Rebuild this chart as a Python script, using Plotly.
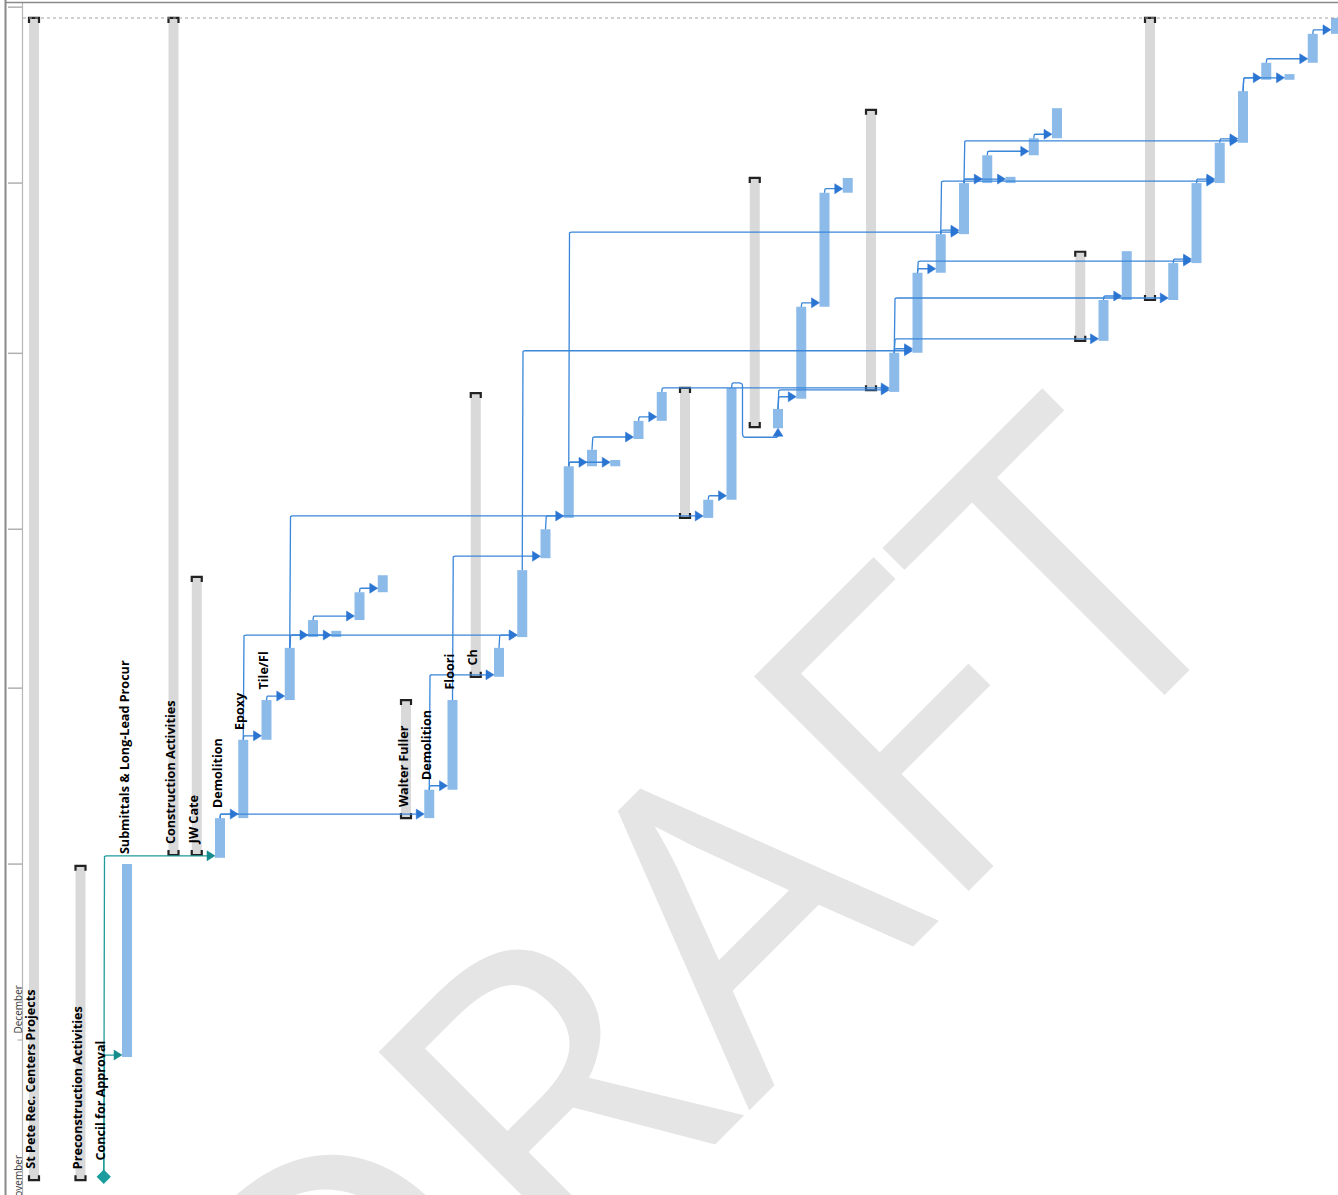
import plotly.graph_objects as go

W, H = 1338, 1195

# ---------------- data (rows run left->right, time runs bottom->top, days from 1 December) ----------------
task_rows = [0, 2, 3, 4, 6, 7, 8, 9, 10, 11, 12, 13, 14, 15, 16, 17, 18, 19, 20, 21, 22, 23, 24, 25, 26, 27,
             28, 29, 30, 31, 32, 33, 34, 35, 36, 37, 38, 39, 40, 41, 42, 43, 44, 45, 46, 47, 48, 49, 50, 51,
             52, 53, 54, 55, 56]
task_kinds = ["S", "S", "M", "T", "S", "S", "T", "T", "T", "T", "T", "T", "T", "T", "S", "T", "T", "S", "T", "T",
              "T", "T", "T", "T", "T", "T", "S", "T", "T", "S", "T", "T", "T", "T", "S", "T", "T", "T", "T", "T",
              "T", "T", "T", "S", "T", "T", "S", "T", "T", "T", "T", "T", "T", "T", "T"]
task_names = ["St Pete Rec. Centers Projects", "Preconstruction Activities", "Concil for Approval",
              "Submittals & Long-Lead Procur", "Construction Activities", "JW Cate", "Demolition", "Epoxy",
              "Tile/Fl", "", "", "", "", "", "Walter Fuller", "Demolition", "Floori", "Ch"] + [""] * 37
task_start = [-24.7, -24.7, -24.1, -3.0, 32.6, 32.6, 32.1, 39.1, 52.9, 59.9, 71.0, 71.0, 74.0, 78.9,
              39.1, 39.1, 44.1, 64.0, 64.0, 71.0, 84.9, 92.0, 101.1, 101.1, 105.9, 109.1,
              92.0, 92.0, 95.2, 108.0, 107.8, 113.0, 129.2, 149.3, 114.5, 114.2, 121.1, 135.2, 142.0,
              151.0, 151.0, 155.9, 158.9, 123.2, 123.2, 130.4, 130.4, 130.4, 136.9, 151.0, 158.1,
              169.2, 169.2, 172.2, 177.3]
task_finish = [180.1, 30.7, -24.1, 31.0, 180.1, 81.6, 39.1, 52.9, 59.9, 69.1, 74.0, 72.1, 78.9, 81.9,
               59.9, 44.1, 59.9, 114.0, 69.1, 82.8, 90.0, 101.1, 104.0, 102.2, 109.1, 114.2,
               114.9, 95.2, 114.9, 151.9, 111.2, 129.2, 149.3, 151.9, 163.9, 121.1, 135.2, 142.0, 151.0,
               155.9, 152.1, 158.9, 164.2, 138.9, 130.4, 139.0, 180.1, 136.9, 151.0, 158.1, 167.2,
               172.2, 170.2, 177.3, 180.1]

link_from = [3, 3, 8, 8, 9, 9, 10, 11, 11, 11, 12, 14, 17, 17, 18, 20, 21, 22, 23, 23, 23, 24, 26, 27,
             29, 30, 32, 32, 33, 34, 37, 37, 37, 38, 38, 39, 39, 40, 40, 40, 41, 43, 46, 49, 50, 51,
             52, 52, 53, 55]
link_to = [4, 8, 9, 17, 10, 21, 11, 12, 13, 29, 14, 15, 18, 20, 22, 21, 38, 23, 24, 25, 40, 26, 27, 37,
           30, 32, 33, 37, 34, 35, 38, 46, 49, 39, 50, 40, 51, 41, 42, 52, 43, 44, 47, 50, 51, 52,
           53, 54, 55, 56]

month_tick_days = [31, 62, 90, 121, 151, 182]
month_label_text = ["November", "December"]
month_label_days = [-30, 0]

# ---------------- scale helpers (match axis ranges below) ----------------
X0, DX = 34.0, 23.25      # pixel x of row 0, pixels per row
Y0, DY = 1040.0, 5.675    # pixel y of day 0, pixels per day


def px_x(k):
    return X0 + DX * k


def px_y(d):
    return Y0 - DY * d


def kx(px):
    return (px - X0) / DX


def dd(py):
    return (Y0 - py) / DY


xrange_ = [kx(0), kx(W)]
yrange_ = [dd(H), dd(0)]

fig = go.Figure()

BLUE_BAR = "#8cbbea"
GRAY_BAR = "#d9d9d9"
LINK = "#3a86d9"
ARROW = "#2a74d2"
TEAL = "#1f9b9b"
TEAL_ARROW = "#158c8c"

# ---------------- bars ----------------
for kind, color in (("S", GRAY_BAR), ("T", BLUE_BAR)):
    xs = [r for r, k in zip(task_rows, task_kinds) if k == kind]
    b = [s for s, k in zip(task_start, task_kinds) if k == kind]
    h = [f - s for s, f, k in zip(task_start, task_finish, task_kinds) if k == kind]
    fig.add_trace(go.Bar(x=xs, y=h, base=b, width=10 / DX, marker=dict(color=color, line=dict(width=0)),
                         hoverinfo="skip"))

# summary end caps
cx, cy = [], []
for r, k, s, f in zip(task_rows, task_kinds, task_start, task_finish):
    if k != "S":
        continue
    xl, xr = px_x(r) - 5, px_x(r) + 5
    yt, yb = px_y(f), px_y(s)
    for (a, b) in [(xl, yt + 5), (xl, yt), (xr, yt), (xr, yt + 5)]:
        cx.append(kx(a)); cy.append(dd(b))
    cx.append(None); cy.append(None)
    for (a, b) in [(xl, yb - 5), (xl, yb), (xr, yb), (xr, yb - 5)]:
        cx.append(kx(a)); cy.append(dd(b))
    cx.append(None); cy.append(None)
fig.add_trace(go.Scatter(x=cx, y=cy, mode="lines", line=dict(color="#222222", width=2.2), hoverinfo="skip"))


# ---------------- links ----------------
def rounded(pts, r=3.0):
    out = [pts[0]]
    for i in range(1, len(pts) - 1):
        (x0, y0), (x1, y1), (x2, y2) = pts[i - 1], pts[i], pts[i + 1]
        d1 = ((x1 - x0) ** 2 + (y1 - y0) ** 2) ** 0.5
        d2 = ((x2 - x1) ** 2 + (y2 - y1) ** 2) ** 0.5
        if d1 < 1e-6 or d2 < 1e-6:
            out.append((x1, y1))
            continue
        rr = min(r, d1 / 2, d2 / 2)
        a = (x1 - (x1 - x0) / d1 * rr, y1 - (y1 - y0) / d1 * rr)
        b = (x1 + (x2 - x1) / d2 * rr, y1 + (y2 - y1) / d2 * rr)
        for t in (0, 0.25, 0.5, 0.75, 1):
            out.append(((1 - t) ** 2 * a[0] + 2 * (1 - t) * t * x1 + t * t * b[0],
                        (1 - t) ** 2 * a[1] + 2 * (1 - t) * t * y1 + t * t * b[1]))
    out.append(pts[-1])
    return out


idx = {r: i for i, r in enumerate(task_rows)}
paths = {"blue": ([], [], [], []), "teal": ([], [], [], [])}
for p, s in zip(link_from, link_to):
    ip, iss = idx[p], idx[s]
    key = "teal" if task_kinds[ip] == "M" else "blue"
    lx, ly, ax, ay = paths[key]
    xp = px_x(p)
    yf = px_y(task_finish[ip])
    xs = px_x(s)
    ys = px_y(task_start[iss])
    if ys > yf + 6:
        ytop = yf - 5
        xj = xp + 11
        ylow = ys + 9
        pts = [(xp, yf), (xp, ytop), (xj, ytop), (xj, ylow), (xs, ylow), (xs, ys + 6)]
        tri = [(xs, ys), (xs - 5, ys + 8), (xs + 5, ys + 8), (xs, ys)]
    else:
        yh = min(yf - 4, ys - 2)
        tip = xs - 5
        pts = [(xp, yf), (xp, yh), (tip - 6, yh)]
        tri = [(tip, yh), (tip - 8, yh - 5), (tip - 8, yh + 5), (tip, yh)]
    for (a, b) in rounded(pts):
        lx.append(kx(a)); ly.append(dd(b))
    lx.append(None); ly.append(None)
    for (a, b) in tri:
        ax.append(kx(a)); ay.append(dd(b))
    ax.append(None); ay.append(None)

for key, lc, ac in (("blue", LINK, ARROW), ("teal", TEAL, TEAL_ARROW)):
    lx, ly, ax, ay = paths[key]
    fig.add_trace(go.Scatter(x=lx, y=ly, mode="lines", line=dict(color=lc, width=1.3), hoverinfo="skip"))
    fig.add_trace(go.Scatter(x=ax, y=ay, mode="lines", fill="toself", fillcolor=ac,
                             line=dict(color=ac, width=0.5), hoverinfo="skip"))

# milestones
mx = [r for r, k in zip(task_rows, task_kinds) if k == "M"]
my = [s for s, k in zip(task_start, task_kinds) if k == "M"]
fig.add_trace(go.Scatter(x=mx, y=my, mode="markers",
                         marker=dict(symbol="diamond", size=11, color="#1c9d9d", line=dict(width=0)),
                         hoverinfo="skip"))

# ---------------- labels ----------------
annotations = []
for r, k, nm, s, f in zip(task_rows, task_kinds, task_names, task_start, task_finish):
    if not nm:
        continue
    if k == "S":
        ybase = px_y(s) - 9
    elif k == "M":
        ybase = px_y(s) - 14
    else:
        ybase = px_y(f) - 8
    annotations.append(dict(x=kx(px_x(r) - 3), y=dd(ybase), xref="x", yref="y", text="<b>" + nm + "</b>",
                            textangle=-90, showarrow=False, xanchor="center", yanchor="bottom",
                            font=dict(family="Open Sans", size=12.6, color="#000000")))

for txt, d in zip(month_label_text, month_label_days):
    annotations.append(dict(x=17.5 / W, y=1 - (px_y(d) - 4) / H, xref="paper", yref="paper", text=txt,
                            textangle=-90, showarrow=False, xanchor="center", yanchor="bottom",
                            font=dict(family="Open Sans", size=10, color="#3a3a3a")))

# ---------------- frame / timescale ----------------
shapes = []
shapes.append(dict(type="line", xref="paper", yref="paper", x0=5.5 / W, x1=5.5 / W, y0=0, y1=1,
                   line=dict(color="#8a8a8a", width=2)))
shapes.append(dict(type="line", xref="paper", yref="paper", x0=22.5 / W, x1=22.5 / W, y0=0, y1=1 - 3 / H,
                   line=dict(color="#b5b5b5", width=1.2)))
shapes.append(dict(type="line", xref="paper", yref="paper", x0=5 / W, x1=1, y0=1 - 2.5 / H, y1=1 - 2.5 / H,
                   line=dict(color="#8a8a8a", width=1.5)))
shapes.append(dict(type="line", xref="paper", yref="paper", x0=23 / W, x1=1, y0=1 - 18 / H, y1=1 - 18 / H,
                   line=dict(color="#a0a0a0", width=1, dash="dot")))
for d in month_tick_days:
    shapes.append(dict(type="line", xref="paper", yref="y", x0=8 / W, x1=22 / W, y0=d, y1=d,
                       line=dict(color="#b0b0b0", width=1.5)))
shapes.append(dict(type="line", xref="paper", yref="y", x0=17.5 / W, x1=22.5 / W, y0=0, y1=0,
                   line=dict(color="#b0b0b0", width=1.2)))

# watermark (behind the chart)
shapes.append(dict(type="line", xref="x", yref="y", x0=kx(262), y0=dd(1406), x1=kx(1152), y1=dd(516),
                   layer="below", line=dict(color="rgba(0,0,0,0)", width=0),
                   label=dict(text="DRAFT", textangle=-45, textposition="middle", yanchor="middle",
                              font=dict(family="Open Sans", size=425, color="#e5e5e5"))))

fig.update_layout(
    width=W, height=H, margin=dict(l=0, r=0, t=0, b=0),
    paper_bgcolor="white", plot_bgcolor="white", showlegend=False, barmode="overlay",
    xaxis=dict(range=xrange_, visible=False, fixedrange=True),
    yaxis=dict(range=yrange_, visible=False, fixedrange=True),
    annotations=annotations, shapes=shapes,
)

fig.write_html("out.html")
